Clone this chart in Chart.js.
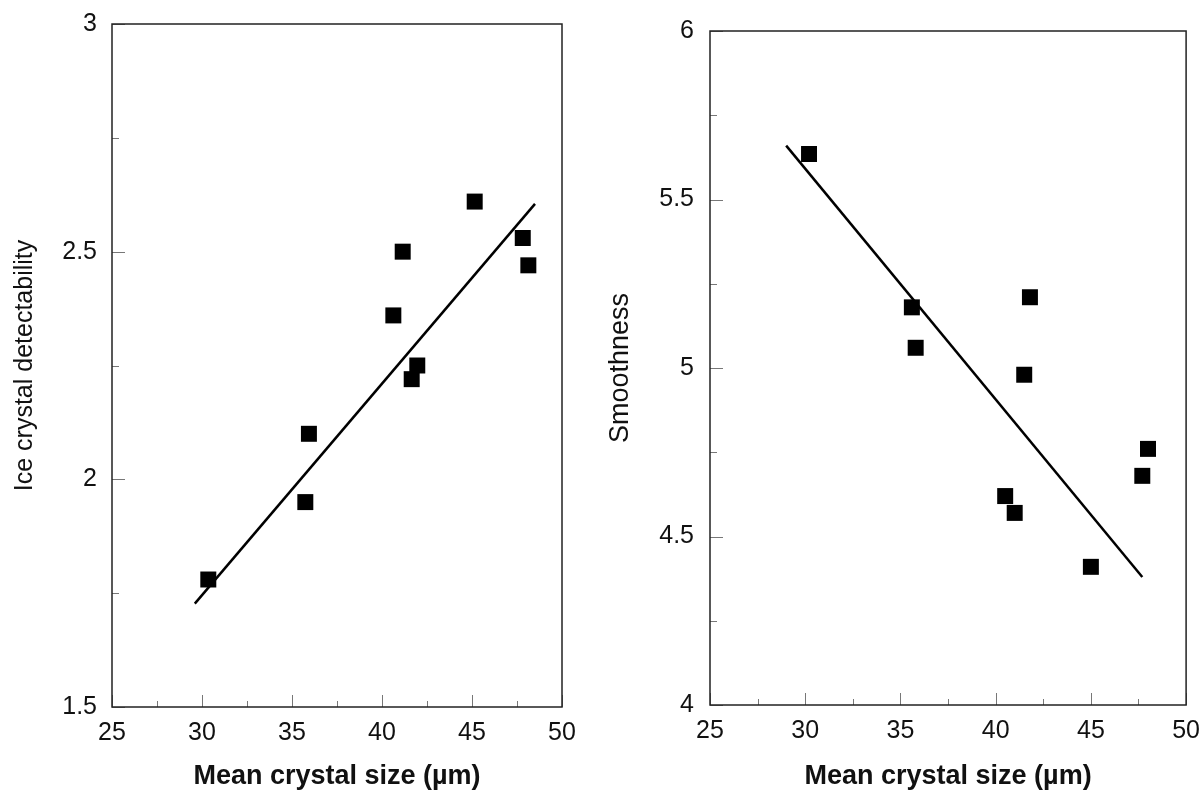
<!DOCTYPE html>
<html>
<head>
<meta charset="utf-8">
<title>Crystal size vs sensory scores</title>
<script src="https://cdn.jsdelivr.net/npm/chart.js@4.4.1/dist/chart.umd.min.js"></script>
<style>
  html, body {
    margin: 0;
    padding: 0;
    background: #ffffff;
  }
  body {
    position: relative;
    width: 1201px;
    height: 793px;
    overflow: hidden;
  }
  .panel {
    position: absolute;
  }
  /* left panel is pulled up a little: Chart.js reserves room above the top label */
  #left-panel { left: 0; top: -6px; width: 600px; height: 799px; }
  #right-panel { left: 600px; top: 0; width: 611px; height: 793px; }
</style>
</head>
<body>
<div class="panel" id="left-panel"><canvas id="left-chart"></canvas></div>
<div class="panel" id="right-panel"><canvas id="right-chart"></canvas></div>

<script>
// Mean crystal size (µm) and scores
const leftSize = [30.35, 35.74, 35.94, 40.63, 41.15, 41.65, 41.96, 45.15, 47.82, 48.13];
const leftDetect = [1.78, 1.95, 2.10, 2.36, 2.50, 2.22, 2.25, 2.61, 2.53, 2.47];

const rightSize = [30.2, 35.6, 35.8, 40.5, 41.0, 41.5, 41.8, 45.0, 47.7, 48.0];
const rightSmooth = [5.635, 5.18, 5.06, 4.62, 4.57, 4.98, 5.21, 4.41, 4.68, 4.76];

// Regression line end points
const leftFitX = [29.6, 48.5];
const leftFitY = [1.727, 2.605];
const rightFitX = [29.0, 47.7];
const rightFitY = [5.66, 4.38];

// Axis tick labels
const xTickLabels = [25, 30, 35, 40, 45, 50];
const leftYTickLabels = [1.5, 2, 2.5, 3];
const rightYTickLabels = [4, 4.5, 5, 5.5, 6];

const FONT = "'Liberation Sans', Arial, Helvetica, sans-serif";

/**
 * Draws the frame and the short inward tick marks
 */
const frameTicks = {
  id: 'frameTicks',
  beforeDatasetsDraw(chart) {
    const { ctx, chartArea: a, scales } = chart;
    ctx.save();

    // tick marks, lighter than the frame
    ctx.strokeStyle = '#777';
    ctx.lineWidth = 1;
    scales.x.ticks.forEach(t => {
      const px = Math.round(scales.x.getPixelForValue(t.value)) + 0.5;
      const len = xTickLabels.includes(t.value) ? 12 : 6;
      ctx.beginPath();
      ctx.moveTo(px, a.bottom);
      ctx.lineTo(px, a.bottom - len);
      ctx.stroke();
    });
    const majorY = chart.options.scales.y.majorTicks;
    scales.y.ticks.forEach(t => {
      const py = Math.round(scales.y.getPixelForValue(t.value)) + 0.5;
      const len = majorY.includes(t.value) ? 13 : 7;
      ctx.beginPath();
      ctx.moveTo(a.left, py);
      ctx.lineTo(a.left + len, py);
      ctx.stroke();
    });

    // box around the plot area
    ctx.strokeStyle = '#222';
    ctx.lineWidth = 1.5;
    ctx.strokeRect(a.left, a.top, a.right - a.left, a.bottom - a.top);
    ctx.restore();
  },
};

/**
 * Build one scatter panel
 */
function makePanel(canvasId, cfg) {
  const ctx = document.getElementById(canvasId).getContext('2d');
  return new Chart(ctx, {
    type: 'scatter',
    data: {
      datasets: [
        {
          label: 'points',
          data: cfg.xs.map((x, i) => ({ x: x, y: cfg.ys[i] })),
          pointStyle: 'rect',
          pointRadius: 11.3,
          pointHoverRadius: 11.3,
          backgroundColor: '#000',
          borderColor: '#000',
          borderWidth: 0,
        },
        {
          label: 'fit',
          type: 'line',
          data: cfg.fitX.map((x, i) => ({ x: x, y: cfg.fitY[i] })),
          borderColor: '#000',
          borderWidth: 2.5,
          pointRadius: 0,
          fill: false,
          tension: 0,
        },
      ],
    },
    options: {
      responsive: true,
      maintainAspectRatio: false,
      animation: false,
      layout: {
        padding: { top: cfg.padTop, right: cfg.padRight, bottom: 0, left: 0 },
      },
      plugins: {
        legend: { display: false },
        tooltip: { enabled: false },
      },
      scales: {
        x: {
          type: 'linear',
          min: 25,
          max: 50,
          grid: { display: false, drawTicks: false },
          border: { display: false },
          ticks: {
            stepSize: 2.5,
            autoSkip: false,
            maxRotation: 0,
            padding: 11,
            color: '#111',
            font: { family: FONT, size: 25 },
            callback: v => (xTickLabels.includes(v) ? String(v) : ''),
          },
          title: {
            display: true,
            text: 'Mean crystal size (µm)',
            color: '#111',
            font: { family: FONT, size: 27, weight: 'bold' },
            padding: { top: 0, bottom: 0 },
          },
          afterFit: scale => { scale.height = cfg.xAxisHeight; },
        },
        y: {
          type: 'linear',
          min: cfg.yMin,
          max: cfg.yMax,
          majorTicks: cfg.yLabels,
          grid: { display: false, drawTicks: false },
          border: { display: false },
          ticks: {
            stepSize: 0.25,
            autoSkip: false,
            padding: cfg.yTickPad,
            color: '#111',
            font: { family: FONT, size: 25 },
            callback: v => (cfg.yLabels.includes(v) ? String(v) : ''),
          },
          title: {
            display: true,
            text: cfg.yTitle,
            color: '#111',
            font: { family: FONT, size: cfg.yTitleSize },
            padding: { top: cfg.yTitlePad, bottom: 0 },
          },
          afterFit: scale => { scale.width = cfg.yAxisWidth; },
        },
      },
    },
    plugins: [frameTicks],
  });
}

makePanel('left-chart', {
  xs: leftSize,
  ys: leftDetect,
  fitX: leftFitX,
  fitY: leftFitY,
  yMin: 1.5,
  yMax: 3,
  yLabels: leftYTickLabels,
  yTitle: 'Ice crystal detectability',
  yTitleSize: 25,
  yTitlePad: 10,
  yTickPad: 15,
  yAxisWidth: 112,
  xAxisHeight: 86,
  padTop: 29,
  padRight: 38,
});

makePanel('right-chart', {
  xs: rightSize,
  ys: rightSmooth,
  fitX: rightFitX,
  fitY: rightFitY,
  yMin: 4,
  yMax: 6,
  yLabels: rightYTickLabels,
  yTitle: 'Smoothness',
  yTitleSize: 27,
  yTitlePad: 4,
  yTickPad: 16,
  yAxisWidth: 110,
  xAxisHeight: 88,
  padTop: 29,
  padRight: 14,
});
</script>
</body>
</html>
